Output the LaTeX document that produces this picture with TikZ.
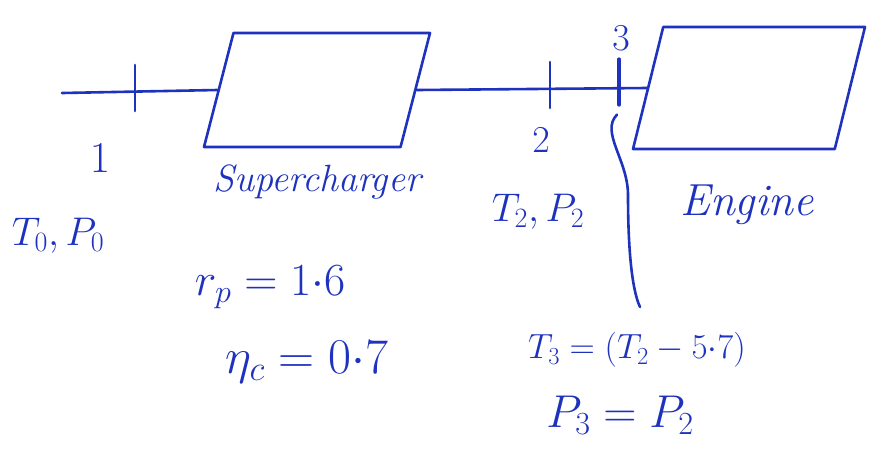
\RequirePackage{fix-cm}
\documentclass[tikz,border=0pt]{standalone}
\usepackage{amsmath}
\usepackage{tikz}
\usetikzlibrary{shapes.geometric, positioning, calc}
\definecolor{ink}{RGB}{30,50,190}
\newcommand{\handsize}[1]{\fontsize{#1}{#1}\selectfont}

\begin{document}
\begin{tikzpicture}[
        x=1pt, y=-1pt,
        font=\handsize{36},
        pen/.style={draw=ink, line width=2.6pt, line cap=round, line join=round},
        unit/.style={pen, trapezium, trapezium left angle=80, trapezium right angle=100, trapezium stretches=true, inner sep=2pt},
        tick/.style={pen, minimum width=0pt, minimum height=46pt, inner sep=0pt},
        lab/.style={text=ink, inner sep=1pt}
    ]
        \useasboundingbox (0,0) rectangle (869,456);

        % blocks
        \node[unit, minimum width=226pt, minimum height=114pt] (sc) at (317,90) {};
        \node[unit, minimum width=232pt, minimum height=122pt] (en) at (749,88) {};

        % pipe and stations
        \coordinate (in) at (62,93);
        \draw[pen] (in) -- (sc.west);
        \draw[pen] (sc.east) -- (en.west);
        \node[tick] (s1) at (135,88) {};
        \node[tick] (s2) at (550,85) {};
        \node[tick, line width=3.2pt] (s3) at (619,82) {};

        % labels
        \node[lab, font=\handsize{44}] (n1) at (100,158) {$1$};
        \node[lab, font=\handsize{40}] (st0) at (58,236) {$T_0, P_0$};
        \node[lab, below=15pt of sc, font=\itshape\handsize{38}] (sclab) {Supercharger};
        \node[lab, font=\handsize{38}] (n2) at (541,140) {$2$};
        \node[lab, font=\handsize{38}] (n3) at (621,38) {$3$};
        \node[lab, font=\handsize{40}] (st2) at (538,212) {$T_2, P_2$};
        \node[lab, font=\itshape\handsize{45}] (enlab) at (747,205) {Engine};
        \node[lab, font=\handsize{46}] (rp) at (270,287) {$r_p = 1{\cdot}6$};
        \node[lab, font=\handsize{50}] (eta) at (307,362) {$\eta_c = 0{\cdot}7$};
        \node[lab, font=\handsize{35}] (t3) at (637,350) {$T_3 = (T_2 - 5{\cdot}7)$};
        \node[lab, font=\handsize{46}] (p3) at (620,415) {$P_3 = P_2$};

        % brace from station 3 down to its state
        \coordinate (b3) at (640,307);
        \draw[pen] ($(s3.south)+(-2,8)$) .. controls (600,132) and (628,160) .. (628,195)
            .. controls (628,250) and (632,290) .. (b3);
    \end{tikzpicture}
\end{document}
